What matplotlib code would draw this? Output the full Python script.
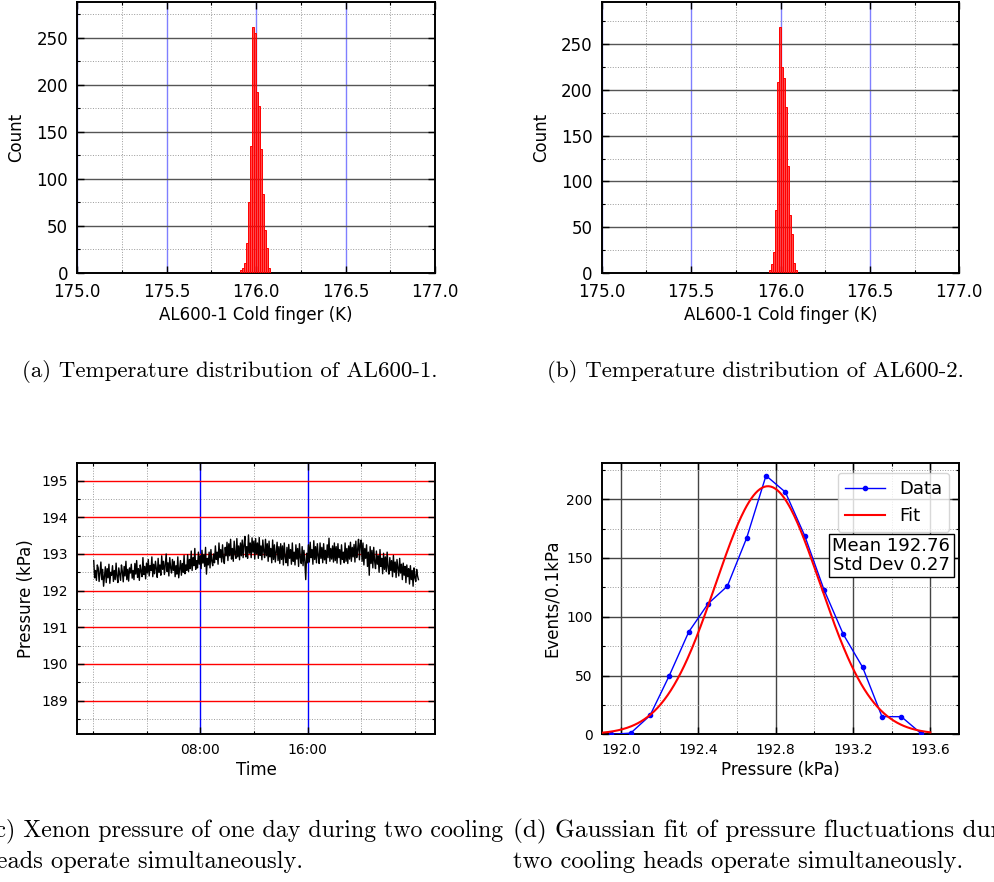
import numpy as np
import pandas as pd
import matplotlib
matplotlib.use("Agg")
import matplotlib.pyplot as plt
import matplotlib.dates as mdates
from matplotlib.ticker import MultipleLocator, FormatStrFormatter

# ---------------- data ----------------
# (a) AL600-1 cold finger temperature histogram
a_bin_start = 175.909
a_bin_width = 0.0114
a_counts = [3, 5, 11, 32, 75, 135, 262, 255, 193, 178, 132, 84, 46, 27, 5]

# (b) AL600-2 cold finger temperature histogram
b_bin_start = 175.933
b_bin_width = 0.0112
b_counts = [3, 10, 23, 69, 209, 269, 225, 213, 181, 117, 63, 43, 11, 3]

# (c) xenon pressure over one day (kPa), sampled every 4 minutes
p_start = "2021-06-01 00:04"
p_step = "4min"
p_values = [
    192.82, 192.35, 192.55, 192.28, 192.70, 192.62, 192.25, 192.48, 192.78, 192.30, 192.58, 192.12, 192.40, 192.65, 192.22,
    192.60, 192.35, 192.72, 192.20, 192.50, 192.42, 192.68, 192.25, 192.55, 192.30, 192.75, 192.38, 192.22, 192.62, 192.45,
    192.28, 192.70, 192.52, 192.24, 192.66, 192.40, 192.80, 192.30, 192.58, 192.26, 192.62, 192.48, 192.72, 192.34, 192.55,
    192.30, 192.74, 192.45, 192.82, 192.36, 192.60, 192.28, 192.70, 192.52, 192.38, 192.90, 192.44, 192.66, 192.32, 192.75,
    192.48, 192.85, 192.40, 192.68, 192.55, 192.92, 192.38, 192.72, 192.46, 192.80, 192.60, 192.36, 192.88, 192.50, 192.70,
    192.42, 192.95, 192.58, 192.80, 192.44, 192.70, 193.00, 192.52, 192.76, 192.40, 192.90, 192.62, 192.48, 192.85, 192.55,
    192.80, 192.38, 192.68, 192.45, 192.92, 192.35, 192.60, 192.82, 192.42, 192.74, 192.50, 192.96, 192.46, 192.70, 192.55,
    192.98, 192.52, 192.85, 192.60, 193.08, 192.55, 192.90, 192.68, 193.15, 192.58, 192.82, 192.62, 193.05, 192.72, 192.95,
    192.60, 193.10, 192.75, 192.98, 192.66, 193.18, 192.45, 192.88, 192.70, 193.05, 192.62, 193.12, 192.80, 192.68, 193.00,
    192.76, 193.22, 192.85, 193.05, 192.72, 193.30, 192.90, 193.12, 192.78, 193.25, 192.88, 192.74, 193.18, 192.95, 193.32,
    192.82, 193.28, 192.95, 193.40, 192.86, 193.15, 192.80, 193.35, 193.00, 192.88, 193.42, 192.92, 193.22, 192.84, 193.30,
    192.95, 193.38, 192.90, 193.25, 193.48, 192.92, 193.20, 192.88, 193.52, 193.02, 193.30, 192.90, 193.44, 193.05, 193.35,
    192.86, 193.42, 193.00, 193.30, 192.88, 193.45, 192.96, 193.22, 192.84, 193.38, 193.08, 192.90, 193.40, 192.95, 193.28,
    192.80, 193.35, 192.92, 193.15, 192.76, 193.38, 192.85, 193.25, 192.78, 193.05, 193.32, 192.82, 193.20, 192.74, 193.28,
    192.85, 193.22, 192.70, 193.30, 192.92, 192.76, 193.18, 192.68, 193.26, 192.88, 193.12, 192.72, 193.30, 192.80, 193.05,
    192.70, 193.25, 192.86, 193.15, 192.66, 193.28, 192.90, 192.74, 193.20, 192.68, 193.10, 192.80, 192.30, 193.02, 192.76,
    193.25, 192.78, 193.32, 192.90, 193.12, 192.72, 193.36, 192.85, 193.20, 192.76, 193.28, 192.95, 192.74, 193.30, 192.88,
    193.18, 192.76, 193.28, 192.84, 193.10, 192.74, 193.25, 192.90, 193.43, 192.80, 193.15, 192.86, 193.22, 192.78, 193.30,
    192.82, 193.20, 192.75, 193.28, 192.90, 193.12, 192.72, 193.25, 192.85, 193.05, 192.76, 193.30, 192.80, 193.15, 192.74,
    193.22, 192.86, 193.32, 192.80, 193.18, 192.92, 193.26, 192.78, 193.35, 192.90, 193.12, 193.40, 192.84, 193.28, 193.38,
    192.80, 193.30, 192.70, 193.15, 192.88, 193.25, 192.66, 193.05, 192.42, 193.20, 192.74, 193.10, 192.62, 193.18, 192.80,
    192.60, 193.08, 192.72, 192.95, 192.50, 193.12, 192.66, 192.88, 192.46, 193.02, 192.58, 192.92, 192.52, 193.05, 192.64,
    192.45, 192.90, 192.55, 192.82, 192.38, 192.96, 192.50, 192.78, 192.36, 192.85, 192.62, 192.40, 192.88, 192.48, 192.72,
    192.30, 192.75, 192.42, 192.66, 192.22, 192.70, 192.38, 192.60, 192.18, 192.68, 192.30, 192.55, 192.12, 192.62, 192.35,
    192.25, 192.58, 192.40, 192.30,
]

# (d) pressure histogram and gaussian fit
d_centers = [191.95, 192.05, 192.15, 192.25, 192.35, 192.45, 192.55, 192.65, 192.75,
             192.85, 192.95, 193.05, 193.15, 193.25, 193.35, 193.45, 193.55]
d_counts = [0, 1, 16, 50, 87, 111, 126, 167, 220, 206, 169, 123, 85, 57, 15, 15, 1]
fit_mean = 192.76
fit_std = 0.27
fit_amp = 211.0
fit_range = (191.9, 193.6)

captions = {
    "a": "(a) Temperature distribution of AL600-1.",
    "b": "(b) Temperature distribution of AL600-2.",
    "c1": "(c) Xenon pressure of one day during two cooling",
    "c2": "heads operate simultaneously.",
    "d1": "(d) Gaussian fit of pressure fluctuations during",
    "d2": "two cooling heads operate simultaneously.",
}

# ---------------- figure ----------------
W, H = 995, 882
fig = plt.figure(figsize=(W / 100, H / 100), dpi=100)


def px_axes(x0, y0, x1, y1):
    return fig.add_axes([x0 / W, 1 - y1 / H, (x1 - x0) / W, (y1 - y0) / H])


def base_style(ax, labelsize):
    ax.tick_params(which="both", direction="in", top=True, right=True,
                   labelsize=labelsize, pad=6.5)
    ax.tick_params(which="major", length=5, width=1.0)
    ax.tick_params(which="minor", length=2.5, width=0.8)
    for s in ax.spines.values():
        s.set_linewidth(1.4)
    ax.grid(which="minor", linestyle=":", color="#9a9a9a", linewidth=0.7)
    ax.set_axisbelow(True)


def temp_hist(ax, start, width, counts):
    edges = start + width * np.arange(len(counts) + 1)
    ax.bar(edges[:-1], counts, width=width, align="edge",
           facecolor=(1, 0, 0, 0.7), edgecolor="red", linewidth=0.7, zorder=3)
    ax.set_xlim(175.0, 177.0)
    ax.set_ylim(0, max(counts) * 1.1)
    ax.xaxis.set_major_locator(MultipleLocator(0.5))
    ax.xaxis.set_minor_locator(MultipleLocator(0.25))
    ax.yaxis.set_major_locator(MultipleLocator(50))
    ax.yaxis.set_minor_locator(MultipleLocator(25))
    base_style(ax, 12)
    ax.tick_params(axis="x", which="both", pad=7.5)
    ax.grid(axis="x", which="major", color="blue", alpha=0.5, linewidth=1.0)
    ax.grid(axis="y", which="major", color="#555555", linewidth=1.0)
    ax.xaxis.set_major_formatter(FormatStrFormatter("%.1f"))
    ax.set_xlabel("AL600-1 Cold finger (K)", fontsize=12, labelpad=3)
    ax.set_ylabel("Count", fontsize=12, labelpad=8)


ax_a = px_axes(77, 2, 435, 273)
temp_hist(ax_a, a_bin_start, a_bin_width, a_counts)

ax_b = px_axes(601.7, 2, 959.3, 273)
temp_hist(ax_b, b_bin_start, b_bin_width, b_counts)

# (c) time series
ax_c = px_axes(77, 462.7, 435, 734.3)
times = pd.date_range(p_start, periods=len(p_values), freq=p_step)
ax_c.plot(times, p_values, color="black", linewidth=1.0, zorder=3)
day0 = pd.Timestamp("2021-06-01 00:00")
ax_c.set_xlim(day0 - pd.Timedelta(hours=1.18), day0 + pd.Timedelta(hours=25.5))
ax_c.set_ylim(188.08, 195.49)
ax_c.xaxis.set_major_locator(mdates.HourLocator(byhour=[8, 16]))
ax_c.xaxis.set_minor_locator(mdates.HourLocator(byhour=range(0, 24, 4)))
ax_c.xaxis.set_major_formatter(mdates.DateFormatter("%H:%M"))
ax_c.yaxis.set_major_locator(MultipleLocator(1))
ax_c.yaxis.set_minor_locator(MultipleLocator(0.5))
base_style(ax_c, 10)
ax_c.grid(axis="x", which="major", color="blue", linewidth=1.0)
ax_c.grid(axis="y", which="major", color="red", linewidth=1.0)
ax_c.set_xlabel("Time", fontsize=12, labelpad=2.5)
ax_c.set_ylabel("Pressure (kPa)", fontsize=12, labelpad=4.5)

# (d) gaussian fit
ax_d = px_axes(601.7, 462.7, 959.3, 734.3)
xf = np.linspace(fit_range[0], fit_range[1], 300)
yf = fit_amp * np.exp(-0.5 * ((xf - fit_mean) / fit_std) ** 2)
ax_d.plot(d_centers, d_counts, color="blue", marker="o", markersize=3,
          linewidth=1.0, label="Data", zorder=3)
ax_d.plot(xf, yf, color="red", linewidth=1.5, label="Fit", zorder=4)
ax_d.set_xlim(191.9, 193.75)
ax_d.set_ylim(0, 231)
ax_d.xaxis.set_major_locator(MultipleLocator(0.4))
ax_d.xaxis.set_minor_locator(MultipleLocator(0.2))
ax_d.yaxis.set_major_locator(MultipleLocator(50))
ax_d.yaxis.set_minor_locator(MultipleLocator(25))
ax_d.xaxis.set_major_formatter(FormatStrFormatter("%.1f"))
base_style(ax_d, 10)
ax_d.grid(which="major", color="#444444", linewidth=1.0)
ax_d.set_xlabel("Pressure (kPa)", fontsize=12, labelpad=3)
ax_d.set_ylabel("Events/0.1kPa", fontsize=12, labelpad=4)
ax_d.legend(loc="upper right", fontsize=13, handlelength=2.2,
            borderaxespad=0.55)
ax_d.text(0.974, 0.726, f"Mean {fit_mean:.2f}\nStd Dev {fit_std:.2f}",
          transform=ax_d.transAxes, ha="right", va="top", fontsize=13,
          linespacing=1.05, zorder=6,
          bbox=dict(boxstyle="square,pad=0.2", facecolor="white",
                    edgecolor="black", linewidth=1.0))

# captions
top_kw = dict(fontfamily="cmr10", fontsize=16.5, va="center")
fig.text(22 / W, 1 - 371 / H, captions["a"], ha="left", **top_kw)
fig.text(547 / W, 1 - 371 / H, captions["b"], ha="left", **top_kw)
fig.text(503 / W, 1 - 831 / H, captions["c1"], ha="right",
         fontfamily="cmr10", fontsize=17.2, va="center")
fig.text(303 / W, 1 - 862 / H, captions["c2"], ha="right",
         fontfamily="cmr10", fontsize=17.6, va="center")
fig.text(513 / W, 1 - 831 / H, captions["d1"], ha="left",
         fontfamily="cmr10", fontsize=18.2, va="center")
fig.text(513 / W, 1 - 862 / H, captions["d2"], ha="left",
         fontfamily="cmr10", fontsize=17.6, va="center")

fig.savefig("out.png", dpi=100)
